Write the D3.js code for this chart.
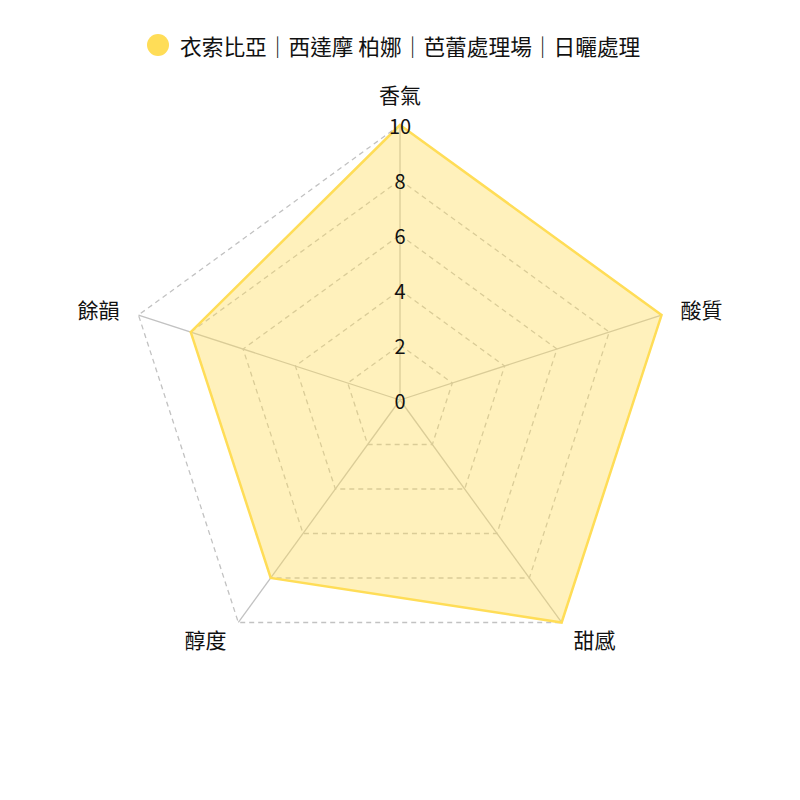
<!DOCTYPE html>
<html>
<head>
<meta charset="utf-8">
<script src="https://cdn.jsdelivr.net/npm/d3@7"></script>
<style>
  body { margin: 0; background: #fff; }
  text { font-family: "Noto Sans CJK TC", "Noto Sans", sans-serif; fill: #111; }
</style>
</head>
<body>
<div id="chart"></div>
<script>
const seriesName = "衣索比亞｜西達摩 柏娜｜芭蕾處理場｜日曬處理";
const axesLabels = ["香氣", "酸質", "甜感", "醇度", "餘韻"];
const scores = [10, 10, 10, 8, 8];
const ticks = [0, 2, 4, 6, 8, 10];

const width = 800, height = 800;
const cx = 400, cy = 400, radius = 275;

const svg = d3.select("#chart")
    .append("svg")
    .attr("width", width)
    .attr("height", height);

const r = d3.scaleLinear().domain([0, 10]).range([0, radius]);
// one spoke per axis, spread round the circle, first one straight up
const step = 2 * Math.PI / axesLabels.length;
function ang(i) { return -Math.PI / 2 + i * step; }
function pt(i, v) {
    return [cx + r(v) * Math.cos(ang(i)), cy + r(v) * Math.sin(ang(i))];
}

const g = svg.append("g");

// dashed grid polygons
g.selectAll(".grid")
    .data(ticks.filter(t => t > 0))
    .enter()
    .append("polygon")
    .attr("points", t => axesLabels.map((a, i) => pt(i, t).join(",")).join(" "))
    .attr("fill", "none")
    .attr("stroke", "#c2c2c2")
    .attr("stroke-width", 1.3)
    .attr("stroke-dasharray", "5,4");

// angle lines
g.selectAll(".spoke")
    .data(axesLabels)
    .enter()
    .append("line")
    .attr("x1", cx).attr("y1", cy)
    .attr("x2", (d, i) => pt(i, 10)[0])
    .attr("y2", (d, i) => pt(i, 10)[1])
    .attr("stroke", "#c2c2c2")
    .attr("stroke-width", 1.3);

// data area
const line = d3.lineRadial()
    .angle((d, i) => i * step)
    .radius(d => r(d))
    .curve(d3.curveLinearClosed);

g.append("path")
    .datum(scores)
    .attr("transform", `translate(${cx},${cy})`)
    .attr("d", line)
    .attr("fill", "rgba(255, 221, 87, 0.4)")
    .attr("stroke", "#ffdd57")
    .attr("stroke-width", 2.5)
    .attr("stroke-linejoin", "miter");

// tick labels
g.selectAll(".tick")
    .data(ticks)
    .enter()
    .append("text")
    .attr("x", cx)
    .attr("y", d => cy - r(d))
    .attr("text-anchor", "middle")
    .attr("dominant-baseline", "central")
    .style("font-size", "20px")
    .text(d => d);

// point labels
g.selectAll(".plabel")
    .data(axesLabels)
    .enter()
    .append("text")
    .attr("x", (d, i) => cx + (radius + 20) * Math.cos(ang(i)))
    .attr("y", (d, i) => {
        const y = cy + (radius + 20) * Math.sin(ang(i));
        return Math.abs(Math.cos(ang(i))) < 0.01 ? y - 11 : y;
    })
    .attr("text-anchor", (d, i) => {
        const c = Math.cos(ang(i));
        return Math.abs(c) < 0.01 ? "middle" : (c > 0 ? "start" : "end");
    })
    .attr("dominant-baseline", "central")
    .style("font-size", "21px")
    .text(d => d);

// legend
const legend = svg.append("g");
legend.append("circle")
    .attr("cx", 158).attr("cy", 45).attr("r", 11)
    .attr("fill", "#ffdd57");
legend.append("text")
    .attr("x", 180).attr("y", 45)
    .attr("dominant-baseline", "central")
    .style("font-size", "21.7px")
    .text(seriesName);
</script>
</body>
</html>
